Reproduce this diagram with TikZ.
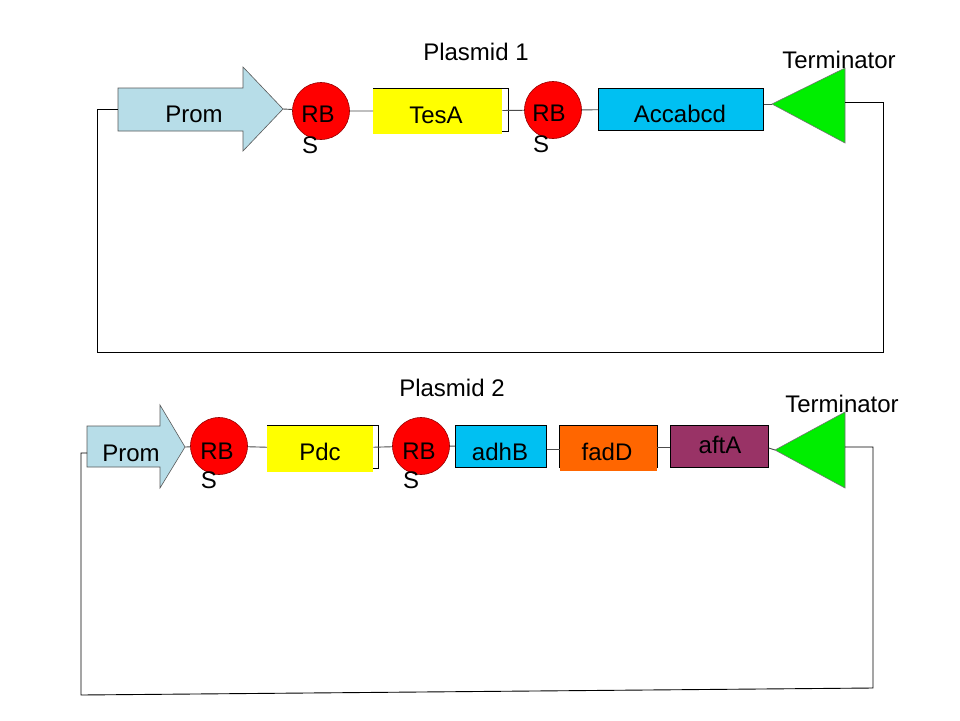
\documentclass[tikz,border=0pt]{standalone}
\usepackage{fontspec}
\setmainfont{Liberation Sans}
\definecolor{promblue}{RGB}{183,221,232}
\definecolor{rbsred}{RGB}{255,0,0}
\definecolor{rbsedge}{RGB}{150,0,0}
\definecolor{geneyellow}{RGB}{255,255,0}
\definecolor{genecyan}{RGB}{0,192,242}
\definecolor{geneorange}{RGB}{255,102,0}
\definecolor{genemaroon}{RGB}{153,51,102}
\definecolor{termgreen}{RGB}{0,238,0}
\begin{document}
\begin{tikzpicture}[x=1pt,y=-1pt,
  txt/.style={font=\fontsize{24}{28}\selectfont, inner sep=0pt, text=black},
  rbs/.style={circle, fill=rbsred, draw=rbsedge, line width=0.6pt, minimum size=57pt, inner sep=0pt},
  genebox/.style={rectangle, draw=black, line width=0.7pt, inner sep=0pt, anchor=north west},
  fillbox/.style={rectangle, inner sep=0pt, anchor=north west},
  promarrow/.style={fill=promblue, draw=black!65, line width=0.6pt, line join=miter},
  termtri/.style={fill=termgreen, draw=black!55, line width=0.6pt},
  link/.style={draw=black!70, line width=0.9pt},
  loopline/.style={draw=black, line width=0.9pt},
]
\useasboundingbox (0,0) rectangle (960,720);
\fill[white] (0,0) rectangle (960,720);

% ---------------- Plasmid 1 ----------------
\node[txt] (title1) at (476,52) {Plasmid 1};
\draw[promarrow] (118,88) -- (243,88) -- (243,67) -- (283,109) -- (243,151) -- (243,131) -- (118,131) -- cycle;
\coordinate (p1tail) at (118,109);
\coordinate (p1tip) at (283,109);
\node[txt] (prom1) at (194,114) {Prom};

\node[rbs] (r1a) at (321,111) {};
\node[txt] (r1aT) at (318,114) {RB};
\node[txt] (r1aS) at (310,145) {S};

\draw[black, line width=0.7pt] (373,88) rectangle (508,131);
\node[fillbox, fill=geneyellow, minimum width=129pt, minimum height=45pt] (tesa) at (373,88.4) {};
\node[txt] (tesaT) at (436,115) {TesA};

\node[rbs] (r1b) at (553,110) {};
\node[txt] (r1bT) at (549,113.5) {RB};
\node[txt] (r1bS) at (541,144) {S};

\node[genebox, fill=genecyan, minimum width=165pt, minimum height=42pt] (acc) at (598,88) {};
\node[txt] (accT) at (680,114) {Accabcd};

\draw[termtri] (772,104) -- (845,68) -- (845,143) -- cycle;
\coordinate (t1tip) at (772,104);
\coordinate (t1r) at (845,102);
\node[txt] (term1) at (839,60) {Terminator};

\draw[link] (p1tip) -- (r1a);
\draw[link] (r1a) -- (tesa);
\draw[link] (tesa) -- (r1b);
\draw[link] (r1b) -- (acc);
\draw[link] (acc.east |- t1tip) -- (t1tip);

\coordinate (c1a) at (883,102);
\coordinate (c1b) at (883,352);
\coordinate (c1c) at (97,352);
\coordinate (c1d) at (97,109);
\draw[loopline] (t1r) -- (c1a) -- (c1b) -- (c1c) -- (c1d) -- (p1tail);

% ---------------- Plasmid 2 ----------------
\node[txt] (title2) at (452,388) {Plasmid 2};
\draw[promarrow] (87,426) -- (160,426) -- (160,405) -- (185,447) -- (160,488) -- (160,467) -- (87,467) -- cycle;
\coordinate (p2tail) at (87,453);
\coordinate (p2tip) at (185,447);
\node[txt] (prom2) at (131,453) {Prom};

\node[rbs] (r2a) at (219,446) {};
\node[txt] (r2aT) at (217,451) {RB};
\node[txt] (r2aS) at (209,480) {S};

\draw[black, line width=0.7pt] (267,425) rectangle (378,468);
\node[fillbox, fill=geneyellow, minimum width=106pt, minimum height=46pt] (pdc) at (267,425.4) {};
\node[txt] (pdcT) at (320,452) {Pdc};

\node[rbs] (r2b) at (421,446) {};
\node[txt] (r2bT) at (419,451) {RB};
\node[txt] (r2bS) at (411,480) {S};

\node[genebox, fill=genecyan, minimum width=91pt, minimum height=42pt] (adhb) at (455,425) {};
\node[txt] (adhbT) at (500,452) {adhB};

\draw[black, line width=0.7pt] (559,425) rectangle (657,467);
\node[fillbox, fill=geneorange, minimum width=97pt, minimum height=45pt] (fadd) at (560,426) {};
\node[txt] (faddT) at (607,452) {fadD};

\node[genebox, fill=genemaroon, minimum width=98pt, minimum height=42pt] (afta) at (670,425) {};
\node[txt] (aftaT) at (720,445) {aftA};

\draw[termtri] (775,450) -- (845,412) -- (845,488) -- cycle;
\coordinate (t2tip) at (775,450);
\coordinate (t2r) at (845,447);
\node[txt] (term2) at (842,404) {Terminator};

\draw[link] (p2tip) -- (r2a);
\draw[link] (r2a) -- (pdc);
\draw[link] (pdc) -- (r2b);
\draw[link] (r2b) -- (adhb);
\draw[link] (adhb.east |- 0,449) -- (fadd.west |- 0,449);
\draw[link] (fadd.east |- 0,447) -- (afta.west |- 0,447);
\draw[link] (afta.east |- 0,448) -- (t2tip);

\coordinate (c2a) at (873,447);
\coordinate (c2b) at (873,688);
\coordinate (c2c) at (81,695);
\coordinate (c2d) at (81,453);
\draw[loopline] (t2r) -- (c2a) -- (c2b) -- (c2c) -- (c2d) -- (p2tail);
\end{tikzpicture}
\end{document}
